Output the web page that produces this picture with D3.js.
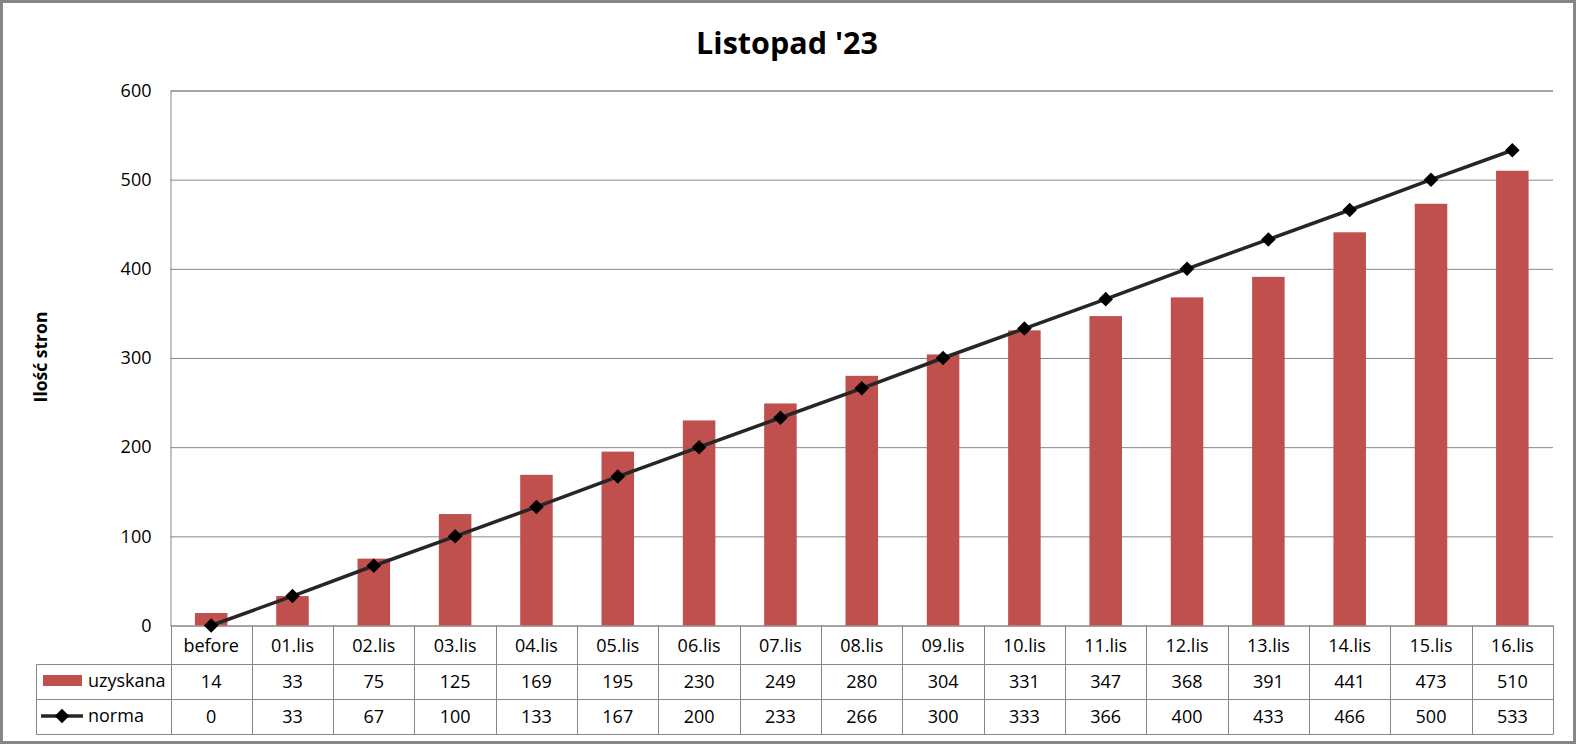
<!DOCTYPE html>
<html>
<head>
<meta charset="utf-8">
<script src="https://cdn.jsdelivr.net/npm/d3@7"></script>
<style>
  html, body { margin: 0; padding: 0; background: #fff; }
  svg { display: block; }
  text { font-family: "Open Sans", "Noto Sans", sans-serif; fill: #000; }
</style>
</head>
<body>
<svg id="chart" width="1578" height="747"></svg>
<script>
const categories = ["before","01.lis","02.lis","03.lis","04.lis","05.lis","06.lis","07.lis","08.lis","09.lis","10.lis","11.lis","12.lis","13.lis","14.lis","15.lis","16.lis"];
const uzyskana = [14,33,75,125,169,195,230,249,280,304,331,347,368,391,441,473,510];
const norma = [0,33,67,100,133,167,200,233,266,300,333,366,400,433,466,500,533];
const yTicks = [0,100,200,300,400,500,600];
const seriesNames = ["uzyskana","norma"];
const titleText = "Listopad '23";
const yTitle = "Ilość stron";

const svg = d3.select("#chart");
const W = 1578, H = 747;
const plot = {left: 170.5, right: 1553, top: 90.5, bottom: 625.5};
const tableLeft = 36.5;
const rowLines = [664.5, 699.5, 734.5];
const gray = "#868686";
const barColor = "#C0504D";
const lineColor = "#262626";

// outer border
svg.append("rect").attr("x",1.5).attr("y",1.5).attr("width",W-5).attr("height",H-6)
  .attr("fill","#fff").attr("stroke",gray).attr("stroke-width",3);

const x = d3.scaleBand().domain(categories).range([plot.left, plot.right]).padding(0);
const step = x.step();
const y = d3.scaleLinear().domain([0,600]).range([plot.bottom, plot.top]);

// gridlines + axis
const yAxis = d3.axisLeft(y).tickValues(yTicks).tickSize(-(plot.right-plot.left)).tickFormat(d3.format("d"));
const gY = svg.append("g").attr("transform",`translate(${plot.left},0)`).call(yAxis);
gY.select(".domain").attr("stroke",gray);
gY.selectAll(".tick line").attr("stroke",gray).attr("stroke-width",1);
gY.selectAll(".tick text").attr("font-size",18).attr("fill","#000")
  .attr("font-family","'Open Sans', sans-serif").attr("x",-19);

// bars
svg.append("g").selectAll("rect").data(categories).join("rect")
  .attr("x", c => x(c) + step*0.3)
  .attr("width", step*0.4)
  .attr("y", (c,i) => y(uzyskana[i]))
  .attr("height", (c,i) => y(0) - y(uzyskana[i]))
  .attr("fill", barColor);

// line
const line = d3.line().x((d,i) => x(categories[i]) + step/2).y(d => y(d));
svg.append("path").datum(norma).attr("d", line).attr("fill","none")
  .attr("stroke", lineColor).attr("stroke-width",3.5).attr("stroke-linejoin","round");
const diamond = d3.symbol().type(d3.symbolDiamond2).size(135);
svg.append("g").selectAll("path").data(norma).join("path")
  .attr("d", diamond)
  .attr("transform", (d,i) => `translate(${x(categories[i]) + step/2},${y(d)})`)
  .attr("fill","#000");

// data table
const tg = svg.append("g");
const bounds = categories.map(c => x(c)).concat([plot.right]);
tg.selectAll("line.v").data(bounds).join("line")
  .attr("x1", d => Math.round(d)+0.5).attr("x2", d => Math.round(d)+0.5)
  .attr("y1", plot.bottom).attr("y2", rowLines[2])
  .attr("stroke", gray).attr("stroke-width",1);
tg.append("line").attr("x1",tableLeft).attr("x2",tableLeft).attr("y1",rowLines[0]).attr("y2",rowLines[2])
  .attr("stroke",gray);
rowLines.forEach(ry => {
  tg.append("line").attr("x1",tableLeft).attr("x2",plot.right).attr("y1",ry).attr("y2",ry).attr("stroke",gray);
});

tg.selectAll("text.cat").data(categories).join("text")
  .attr("x", c => x(c)+step/2).attr("y", 652).attr("text-anchor","middle")
  .attr("font-size",18).text(c => c);
tg.selectAll("text.u").data(uzyskana).join("text")
  .attr("x", (d,i) => x(categories[i])+step/2).attr("y", 688).attr("text-anchor","middle")
  .attr("font-size",18).text(d => d);
tg.selectAll("text.n").data(norma).join("text")
  .attr("x", (d,i) => x(categories[i])+step/2).attr("y", 723).attr("text-anchor","middle")
  .attr("font-size",18).text(d => d);

// legend keys
tg.append("rect").attr("x",43).attr("y",675).attr("width",39).attr("height",11).attr("fill",barColor);
tg.append("text").attr("x",88).attr("y",687).attr("font-size",18).text(seriesNames[0]);
tg.append("line").attr("x1",41).attr("x2",83).attr("y1",716).attr("y2",716)
  .attr("stroke",lineColor).attr("stroke-width",3.5);
tg.append("path").attr("d",diamond).attr("transform","translate(62,716)").attr("fill","#000");
tg.append("text").attr("x",88).attr("y",722).attr("font-size",18).text(seriesNames[1]);

// title
svg.append("text").attr("x",787).attr("y",54).attr("text-anchor","middle")
  .attr("font-size",30.5).attr("font-weight","bold").text(titleText);

// y axis title
svg.append("text").attr("transform","translate(47,357) rotate(-90)").attr("text-anchor","middle")
  .attr("font-size",17.5).attr("font-weight","bold").text(yTitle);
</script>
</body>
</html>
